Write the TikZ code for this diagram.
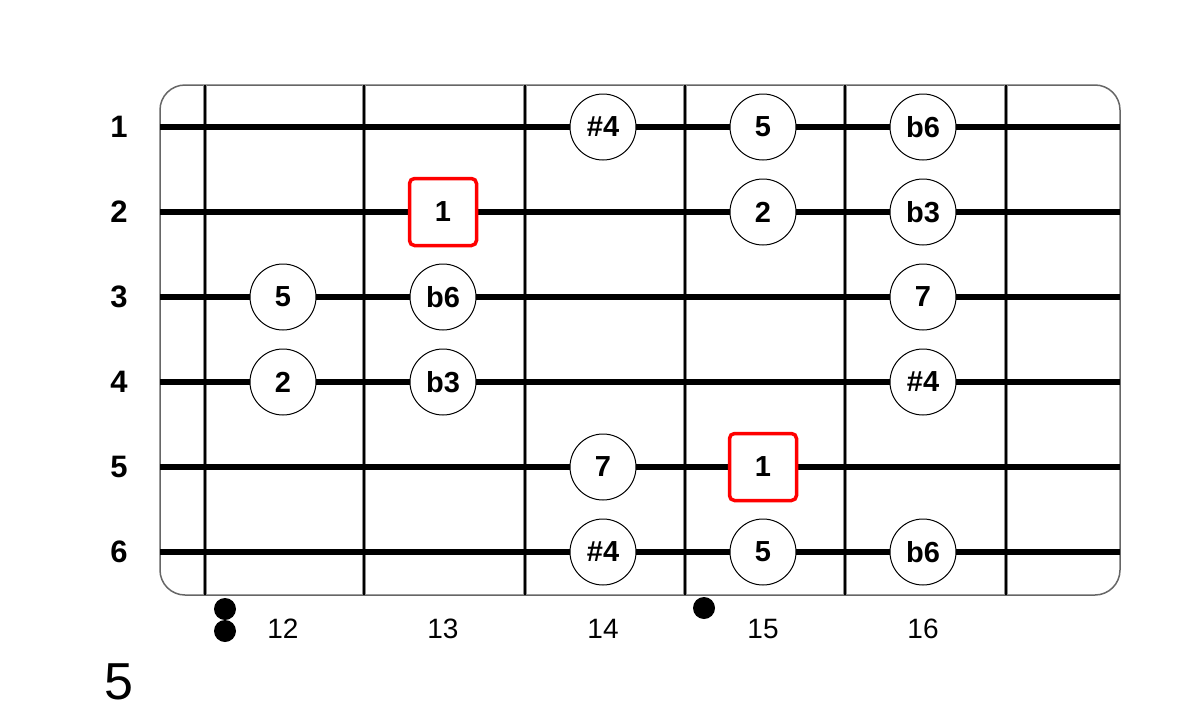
\documentclass[tikz,border=0pt]{standalone}
\usepackage{fontspec}
\setmainfont{Liberation Sans}
\begin{document}
\begin{tikzpicture}[x=1pt,y=-1pt,
  note/.style={circle,draw=black,line width=1pt,fill=white,minimum size=66pt,inner sep=0pt,font=\fontsize{29}{29}\selectfont\bfseries},
  root/.style={rectangle,rounded corners=5pt,draw=red,line width=3.5pt,fill=white,minimum size=67pt,inner sep=0pt,font=\fontsize{29}{29}\selectfont\bfseries},
  strlabel/.style={font=\fontsize{31}{31}\selectfont\bfseries,inner sep=0pt},
  fretnum/.style={font=\fontsize{28}{28}\selectfont,inner sep=0pt},
  inlay/.style={circle,fill=black,minimum size=22pt,inner sep=0pt},
  board/.style={draw=black!60,line width=1.5pt,rounded corners=25pt},
  fretline/.style={line width=2.6pt,draw=black},
  fretedge/.style={line width=4.5pt,draw=black!45},
  stringline/.style={line width=6pt,draw=black}
]
\useasboundingbox (0,0) rectangle (1200,723);
\fill[white] (0,0) rectangle (1200,723);
% fretboard
\draw[board] (160,85) rectangle (1120,595);
% frets
\foreach \i/\x in {a/205,b/364,c/525,d/685,e/845,f/1006}{
  \coordinate (ft\i) at (\x,85);
  \coordinate (fb\i) at (\x,595);
  \draw[fretedge] (ft\i) -- (fb\i);
  \draw[fretline] (ft\i) -- (fb\i);
}
% strings
\foreach \n/\y in {1/127,2/212,3/297,4/382,5/467,6/552}{
  \coordinate (sl\n) at (160,\y);
  \coordinate (sr\n) at (1120,\y);
  \draw[stringline] (sl\n) -- (sr\n);
  \node[strlabel] (lab\n) at (119,\y) {\n};
}
% notes
\node[note] (n1a) at (603,127) {\#4};
\node[note] (n1b) at (763,127) {5};
\node[note] (n1c) at (923,127) {b6};
\node[root] (n2a) at (443,212) {1};
\node[note] (n2b) at (763,212) {2};
\node[note] (n2c) at (923,212) {b3};
\node[note] (n3a) at (283,297) {5};
\node[note] (n3b) at (443,297) {b6};
\node[note] (n3c) at (923,297) {7};
\node[note] (n4a) at (283,382) {2};
\node[note] (n4b) at (443,382) {b3};
\node[note] (n4c) at (923,382) {\#4};
\node[note] (n5a) at (603,467) {7};
\node[root] (n5b) at (763,467) {1};
\node[note] (n6a) at (603,552) {\#4};
\node[note] (n6b) at (763,552) {5};
\node[note] (n6c) at (923,552) {b6};
% inlays
\node[inlay] (d12a) at (225,609) {};
\node[inlay] (d12b) at (225,631) {};
\node[inlay] (d15) at (704,608) {};
% fret numbers
\node[fretnum] (f12) at (283,629) {12};
\node[fretnum] (f13) at (443,629) {13};
\node[fretnum] (f14) at (603,629) {14};
\node[fretnum] (f15) at (763,629) {15};
\node[fretnum] (f16) at (923,629) {16};
% position
\node[font=\fontsize{52}{52}\selectfont,inner sep=0pt] (pos) at (119,682) {5};
\end{tikzpicture}
\end{document}
